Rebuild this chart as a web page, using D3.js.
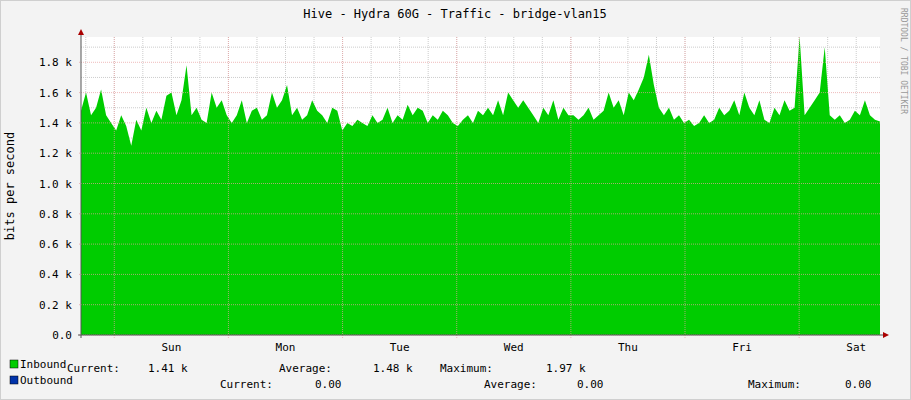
<!DOCTYPE html>
<html><head><meta charset="utf-8">
<script src="https://cdn.jsdelivr.net/npm/d3@7"></script>
<style>body{margin:0;background:#f3f3f3}text{font-family:"DejaVu Sans Mono",monospace;font-size:11px;fill:#000}</style>
</head><body>
<script>
const days = ["Sun", "Mon", "Tue", "Wed", "Thu", "Fri", "Sat"];
const yTicks = [0, 200, 400, 600, 800, 1000, 1200, 1400, 1600, 1800];
const yLabels = ["0.0", "0.2 k", "0.4 k", "0.6 k", "0.8 k", "1.0 k", "1.2 k", "1.4 k", "1.6 k", "1.8 k"];
// inbound bits/s in k, roughly every 5 px over one week
const inbound = [1.48,1.6,1.45,1.5,1.62,1.45,1.4,
1.35,1.45,1.38,1.25,1.42,1.35,1.5,1.4,1.48,1.42,1.58,1.6,
1.45,1.55,1.78,1.45,1.5,1.42,1.4,1.6,1.5,1.55,1.45,
1.4,1.45,1.55,1.4,1.48,1.5,1.42,1.45,1.6,1.5,1.55,
1.65,1.45,1.5,1.42,1.45,1.55,1.48,1.45,1.4,1.5,1.48,
1.35,1.4,1.38,1.42,1.4,1.38,1.45,1.4,1.42,1.5,1.4,
1.45,1.42,1.52,1.45,1.5,1.48,1.4,1.45,1.42,1.48,1.45,1.4,
1.38,1.42,1.45,1.4,1.48,1.45,1.5,1.45,1.55,1.45,1.6,1.55,
1.5,1.55,1.5,1.45,1.4,1.5,1.45,1.55,1.42,1.5,1.45,
1.45,1.42,1.45,1.5,1.42,1.45,1.48,1.6,1.5,1.55,1.45,
1.6,1.55,1.62,1.7,1.85,1.65,1.5,1.45,1.5,1.42,1.45,1.4,
1.42,1.38,1.4,1.45,1.4,1.42,1.5,1.45,1.48,1.55,1.45,
1.6,1.5,1.45,1.55,1.42,1.4,1.5,1.45,1.55,1.48,1.5,1.97,
1.45,1.5,1.55,1.6,1.9,1.45,1.42,1.45,1.4,1.42,1.48,1.45,
1.55,1.45,1.42,1.41];
const legendRows = [
  {name: "Inbound", color: "#00cc00", cur: "1.41 k", avg: "1.48 k", max: "1.97 k"},
  {name: "Outbound", color: "#0033aa", cur: "0.00", avg: "0.00", max: "0.00"}
];

const W = 911, H = 400, L = 81, R = 880, T = 37, B = 335;
const svg = d3.select("body").append("svg").attr("width", W).attr("height", H);
svg.append("rect").attr("x", 0.5).attr("y", 0.5).attr("width", W - 1).attr("height", H - 1)
  .attr("fill", "#f3f3f3").attr("stroke", "#cfcfcf");
svg.append("rect").attr("x", L).attr("y", T).attr("width", R - L).attr("height", B - T).attr("fill", "#fff");

const x = d3.scaleLinear().domain([0, 168]).range([L, R]);
const y = d3.scaleLinear().domain([0, 1967]).range([B, T]);

// minor grid
for (let h = 1; h < 168; h += 6) {
  svg.append("line").attr("x1", x(h)).attr("x2", x(h)).attr("y1", T).attr("y2", B)
    .attr("stroke", "#ccc").attr("stroke-dasharray", "1,1");
}
for (let v = 100; v < 1967; v += 200) {
  svg.append("line").attr("x1", L).attr("x2", R).attr("y1", y(v)).attr("y2", y(v))
    .attr("stroke", "#ccc").attr("stroke-dasharray", "1,1");
}

const data = inbound.map((v, i) => ({t: i * 168 / (inbound.length - 1), v: v * 1000}));
svg.append("path").datum(data)
  .attr("d", d3.area().x(d => x(d.t)).y0(B).y1(d => y(d.v)))
  .attr("fill", "#00cc00");

// major grid (drawn over area like rrdtool)
days.forEach((d, i) => {
  const xm = x(7 + 24 * i);
  svg.append("line").attr("x1", xm).attr("x2", xm).attr("y1", T).attr("y2", B + 3)
    .attr("stroke", "#e8a0a0").attr("stroke-opacity", 0.7).attr("stroke-dasharray", "1,1");
  svg.append("text").attr("x", x(19 + 24 * i)).attr("y", 351).attr("text-anchor", "middle").text(d);
});
yTicks.forEach((v, i) => {
  svg.append("line").attr("x1", L - 2).attr("x2", R).attr("y1", y(v)).attr("y2", y(v))
    .attr("stroke", "#e8a0a0").attr("stroke-opacity", 0.7).attr("stroke-dasharray", "1,1");
  svg.append("text").attr("x", 72).attr("y", y(v) + 4).attr("text-anchor", "end").text(yLabels[i]);
});

// axes with arrows
svg.append("line").attr("x1", L).attr("x2", L).attr("y1", B + 3).attr("y2", 32).attr("stroke", "#555");
svg.append("line").attr("x1", L - 3).attr("x2", 884).attr("y1", B).attr("y2", B).attr("stroke", "#555");
svg.append("path").attr("d", `M${L - 3},35 L${L + 3},35 L${L},29 Z`).attr("fill", "#a00");
svg.append("path").attr("d", `M883,${B - 3} L883,${B + 3} L889,${B} Z`).attr("fill", "#a00");

svg.append("text").attr("x", 455).attr("y", 18).attr("text-anchor", "middle").style("font-size", "12px")
  .text("Hive - Hydra 60G - Traffic - bridge-vlan15");
svg.append("text").attr("transform", "translate(14,186) rotate(-90)").attr("text-anchor", "middle")
  .style("font-size", "12px").text("bits per second");
svg.append("text").attr("transform", "translate(901,8) rotate(90)").style("font-size", "8px")
  .style("fill", "#999").text("RRDTOOL / TOBI OETIKER");

// legend
legendRows.forEach((r, i) => {
  const yy = 368 + i * 16;
  svg.append("rect").attr("x", 10).attr("y", yy - 8).attr("width", 8).attr("height", 8)
    .attr("fill", r.color).attr("stroke", "#000").attr("stroke-width", 0.5);
  svg.append("text").attr("x", 20).attr("y", yy + 4 - 4).text(r.name);
});
const t1 = [[67, "Current:"], [210, "1.41 k"], [160, "Average:"], [213, "1.48 k"], [252, "Maximum:"], [303, "1.97 k"]];
svg.append("text").attr("x", 67).attr("y", 372).text("Current:");
svg.append("text").attr("x", 148).attr("y", 372).text("1.41 k");
svg.append("text").attr("x", 160 + 0).attr("y", 372).text("");
svg.append("text").attr("x", 279).attr("y", 372).text("Average:");
svg.append("text").attr("x", 373).attr("y", 372).text("1.48 k");
svg.append("text").attr("x", 440).attr("y", 372).text("Maximum:");
svg.append("text").attr("x", 546).attr("y", 372).text("1.97 k");
svg.append("text").attr("x", 220).attr("y", 388).text("Current:");
svg.append("text").attr("x", 315).attr("y", 388).text("0.00");
svg.append("text").attr("x", 484).attr("y", 388).text("Average:");
svg.append("text").attr("x", 577).attr("y", 388).text("0.00");
svg.append("text").attr("x", 748).attr("y", 388).text("Maximum:");
svg.append("text").attr("x", 845).attr("y", 388).text("0.00");
</script></body></html>
